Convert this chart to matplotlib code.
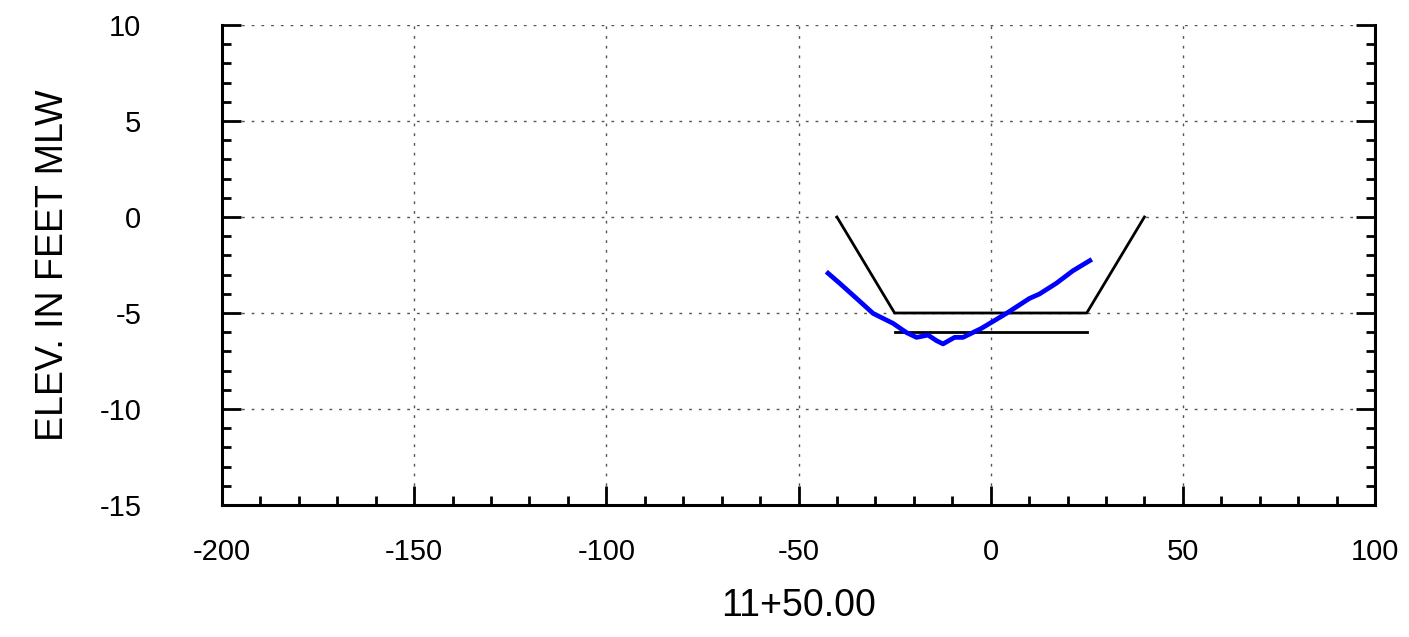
import numpy as np
import matplotlib
matplotlib.use("Agg")
import matplotlib.pyplot as plt
from matplotlib.ticker import MultipleLocator

plt.rcParams['font.family'] = ['Liberation Sans', 'DejaVu Sans']
plt.rcParams['axes.unicode_minus'] = False

# 断面テンプレート (設計断面)
template_x = [-40, -25, 25, 40]
template_y = [0, -5, -5, 0]
# 余掘り線
overdepth_x = [-25, 25]
overdepth_y = [-6, -6]

# 測量断面 (青線)
survey_x = [-42.3, -39.3, -34.9, -30.6, -25.4, -21.9, -19.3, -16.3, -14.1,
            -12.4, -9.4, -7.2, -2.4, 4.1, 10.1, 12.7, 17.1, 21.4, 25.8]
survey_y = [-2.93, -3.45, -4.24, -5.02, -5.54, -6.02, -6.27, -6.15, -6.44,
            -6.61, -6.27, -6.27, -5.80, -5.02, -4.24, -4.01, -3.45, -2.80, -2.27]

station_label = "11+50.00"
y_label = "ELEV. IN FEET MLW"

fig = plt.figure(figsize=(14.09, 6.37), dpi=100)
ax = fig.add_axes([222 / 1409, 1 - 505 / 637, 1153 / 1409, 480 / 637])

ax.plot(template_x, template_y, color='black', lw=2.0)
ax.plot(overdepth_x, overdepth_y, color='black', lw=2.0)
ax.plot(survey_x, survey_y, color='#0000ff', lw=3.4)

ax.set_xlim(-200, 100)
ax.set_ylim(-15, 10)
ax.xaxis.set_major_locator(MultipleLocator(50))
ax.xaxis.set_minor_locator(MultipleLocator(10))
ax.yaxis.set_major_locator(MultipleLocator(5))
ax.yaxis.set_minor_locator(MultipleLocator(1))

ax.grid(True, which='major', linestyle=(0, (2, 5)), color='#555555', lw=1.0)

ax.spines['top'].set_visible(False)
for s in ['left', 'right', 'bottom']:
    ax.spines[s].set_linewidth(2.2)

ax.tick_params(which='both', direction='in', top=False, right=True,
               labelright=False, width=2.0)
ax.tick_params(which='major', length=14)
ax.tick_params(which='minor', length=6.5)
ax.tick_params(axis='x', which='major', labelsize=21, pad=24)
ax.tick_params(axis='y', which='major', labelsize=21, pad=58)

ax.set_xlabel(station_label, fontsize=27)
ax.set_ylabel(y_label, fontsize=27)
ax.xaxis.set_label_coords(0.5, -0.172)
ax.yaxis.set_label_coords(-0.131, 0.5)

plt.savefig("out.png", dpi=100)
plt.close()
